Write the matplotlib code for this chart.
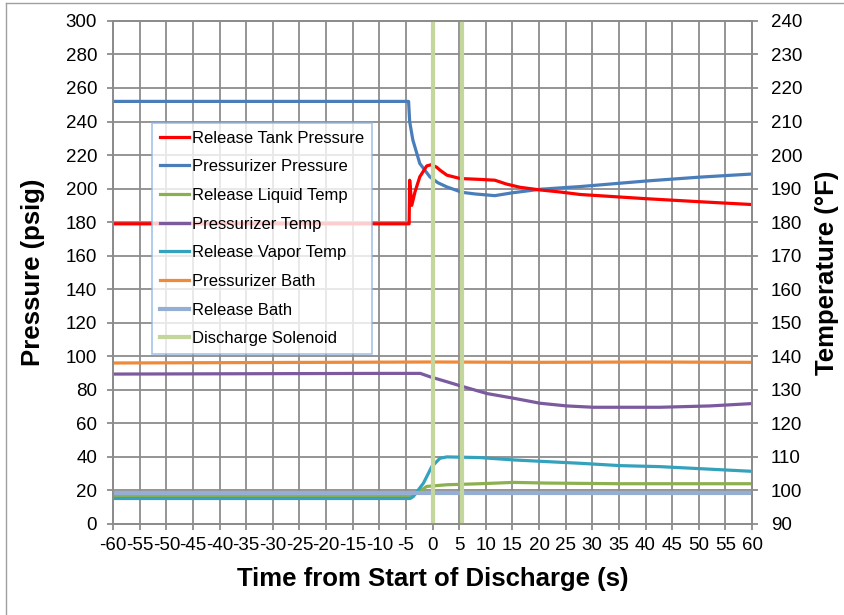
import matplotlib
matplotlib.use("Agg")
import matplotlib.pyplot as plt
import numpy as np

plt.rcParams['font.family'] = ['Liberation Sans', 'DejaVu Sans']
plt.rcParams['axes.unicode_minus'] = False

# pressures (psig) - left axis
t_tank = [-60, -4.4, -4.3, -3.9, -3.3, -2.4, -1.1, -0.2, 0.8, 1.4, 2.7, 5.2, 8.9, 11.7,
          13.9, 16.4, 20.2, 23.9, 27.7, 40, 50, 60]
p_tank = [179, 179, 205, 190, 198, 207, 213.5, 214.3, 212.7, 211, 208, 206, 205.5, 205,
          202.7, 200.8, 199.2, 198, 196.5, 194, 192.2, 190.5]

t_przr = [-60, -4.5, -4.3, -3.7, -2.4, -0.5, 1.0, 2.7, 5.5, 8.0, 11.7, 15, 20.2, 23.9,
          27.7, 40, 50, 60]
p_przr = [252, 252, 240, 229, 215, 207, 203.5, 201, 197.8, 196.8, 195.8, 197.5, 199.6,
          200.4, 201.2, 204.5, 206.8, 208.7]

# temperatures (°F) - right axis
t_liq = [-60, -4.0, -2.6, -1.1, 2.7, 8.9, 15.2, 21.4, 35.2, 60]
T_liq = [98.4, 98.4, 99.5, 101.2, 101.7, 102.0, 102.4, 102.2, 102.0, 102.0]

t_pt = [-60, -9.9, -2.3, -0.5, 2.5, 5.2, 10.2, 15.2, 20.2, 25.2, 30.2, 35.2, 42.7,
        52.1, 60]
T_pt = [134.7, 134.9, 134.9, 133.9, 132.5, 131.2, 128.9, 127.5, 126.0, 125.2, 124.8,
        124.8, 124.8, 125.2, 125.9]

t_vap = [-60, -4.2, -3.6, -1.7, -0.15, 1.4, 2.7, 8.9, 15.2, 21.4, 27.7, 35.2, 42.7, 60]
T_vap = [97.6, 97.6, 98.2, 102.2, 107.1, 109.6, 110.0, 109.8, 109.1, 108.6, 108.1, 107.4,
         107.1, 105.7]

t_pb = [-60, -40, -20, 0, 20, 40, 60]
T_pb = [138.0, 138.1, 138.2, 138.3, 138.2, 138.3, 138.2]

t_rb = [-60, 60]
T_rb = [99.1, 99.1]

# discharge solenoid, full height of chart (temperature axis units)
t_sol = [0, 0, np.nan, 5.6, 5.6]
T_sol = [90, 240, np.nan, 240, 90]

fig = plt.figure(figsize=(8.44, 6.15), dpi=100)
ax = fig.add_axes([0.134, 0.148, 0.757, 0.818])
ax2 = ax.twinx()

grid_c = '#8c8c8c'
lw = 2.3

l1, = ax.plot(t_tank, p_tank, color='#ff0000', lw=lw, label='Release Tank Pressure', zorder=5)
l2, = ax.plot(t_przr, p_przr, color='#4a7ebb', lw=lw, label='Pressurizer Pressure', zorder=4)

l3, = ax2.plot(t_liq, T_liq, color='#8cb04e', lw=lw, label='Release Liquid Temp')
l4, = ax2.plot(t_pt, T_pt, color='#7b5a9e', lw=lw, label='Pressurizer Temp')
l5, = ax2.plot(t_vap, T_vap, color='#35a2bd', lw=lw, label='Release Vapor Temp')
l6, = ax2.plot(t_pb, T_pb, color='#ee8a3a', lw=lw, label='Pressurizer Bath')
l7, = ax2.plot(t_rb, T_rb, color='#94aed4', lw=3, label='Release Bath')
l8, = ax2.plot(t_sol, T_sol, color='#c3d69b', lw=3, label='Discharge Solenoid')

ax.set_xlim(-60, 60)
ax.set_ylim(0, 300)
ax2.set_ylim(90, 240)
ax.set_xticks(np.arange(-60, 61, 5))
ax.set_yticks(np.arange(0, 301, 20))
ax2.set_yticks(np.arange(90, 241, 10))

ax.grid(True, color=grid_c, lw=1.3)
ax.set_axisbelow(True)
for a in (ax, ax2):
    for s in a.spines.values():
        s.set_color(grid_c)
        s.set_linewidth(1.3)
    a.tick_params(direction='out', length=4.5, width=1.3, color=grid_c, labelsize=13.5)
ax.tick_params(axis='x', pad=5)
ax.tick_params(axis='y', pad=7)
ax2.tick_params(axis='y', pad=9)

ax.set_xlabel('Time from Start of Discharge (s)', fontsize=18.5, fontweight='bold', labelpad=9)
ax.set_ylabel('Pressure (psig)', fontsize=18.5, fontweight='bold', labelpad=15)
ax2.set_ylabel('Temperature (°F)', fontsize=18.5, fontweight='bold', labelpad=9)

handles = [l1, l2, l3, l4, l5, l6, l7, l8]
leg = ax2.legend(handles=handles, loc='upper left', bbox_to_anchor=(0.061, 0.797),
                 fontsize=12, frameon=True, fancybox=False, borderaxespad=0,
                 handlelength=1.75, handletextpad=0.2, labelspacing=0.82,
                 borderpad=0.45)
leg.get_frame().set_edgecolor('#8eb4e3')
leg.get_frame().set_linewidth(1.2)
leg.set_zorder(10)

# chart border (left and top visible)
fig.add_artist(plt.Line2D([0.007, 0.007], [0, 0.995], color='#a0a0a0', lw=1))
fig.add_artist(plt.Line2D([0.007, 1], [0.995, 0.995], color='#a0a0a0', lw=1))

fig.savefig('out.png', dpi=100)
